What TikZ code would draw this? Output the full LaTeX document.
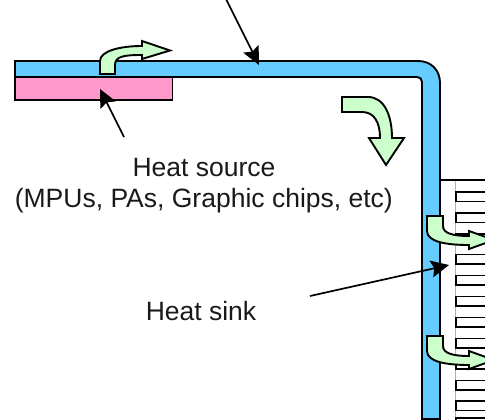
\documentclass[tikz,border=0pt]{standalone}
\usepackage{fontspec}
\setmainfont{Liberation Sans}
\usetikzlibrary{arrows.meta}
\definecolor{pipeblue}{RGB}{102,204,255}
\definecolor{srcpink}{RGB}{255,153,204}
\definecolor{flowgreen}{RGB}{204,255,204}
\tikzset{
  outl/.style={draw=black,line width=1.9pt,line join=miter},
  flow/.style={outl,fill=flowgreen},
  pointer/.style={draw=black,line width=1.7pt,-{Stealth[length=18pt,width=17pt,inset=3pt]}},
  lab/.style={inner sep=0pt,font=\fontsize{26.5}{30}\selectfont,text=black!90},
  fin/.style={draw=black,line width=1.5pt}
}
\newcommand{\sideflow}[1]{%
  \path[flow,shift={(0,#1)}] (427,216) -- (443,216) -- (443,226)
    .. controls (443,233) and (452,236) .. (469,236) -- (469,231) -- (494,240) -- (469,249) -- (469,245)
    .. controls (447,245) and (427,242) .. (427,231) -- cycle;}
\begin{document}
\begin{tikzpicture}[x=1pt,y=-1pt]
\useasboundingbox (0,0) rectangle (485,420);
\clip (0,0) rectangle (485,420);
% heat sink
\draw[draw=black!30,line width=1pt] (455,180) -- (455,420);
\draw[fin] (440,180) -- (485,180);
\foreach \t in {192,213,234,254.5,275.5,296.5,317.5,338.5,359.5,380.5,401}
  \draw[fin] (485,\t) -- (456,\t) -- (456,\t+9.5) -- (485,\t+9.5);
\draw[fin] (456,420) -- (456,418) -- (485,418);
% pipe
\path[outl,fill=pipeblue] (15,61) -- (418,61) .. controls (431,61) and (440,70) .. (440,83)
  -- (440,419) -- (422,419) -- (422,82) .. controls (422,79) and (420,77) .. (417,77) -- (15,77) -- cycle;
% source
\path[outl,fill=srcpink] (15,77) -- (172.5,77) -- (172.5,100) -- (15,100) -- cycle;
% flow arrows
\path[flow] (100,74) -- (100,61) .. controls (100,51) and (120,46) .. (142,46) -- (142,41) -- (170,50.5) -- (142,59) -- (142,55)
  .. controls (125,55) and (115,56) .. (115,65) -- (115,74) -- cycle;
\path[flow] (342,97) -- (368,97) .. controls (384,97) and (392,115) .. (392,138) -- (404,138) -- (386,165) -- (369,138) -- (380,138)
  .. controls (380,122) and (374,112) .. (362,112) -- (342,112) -- cycle;
\sideflow{0}
\sideflow{120}
% labels
\node[lab,anchor=base] (src) at (204,176) {Heat source};
\node[lab,anchor=base east] (srcb) at (393,207.5) {(MPUs, PAs, Graphic chips, etc)};
\node[lab,anchor=base] (sink) at (201,320) {Heat sink};
% pointers
\coordinate (p1s) at (226,-1); \coordinate (p1e) at (259,65);
\coordinate (p2s) at (124,137); \coordinate (p2e) at (100,89);
\coordinate (p3s) at (310,296); \coordinate (p3e) at (449,265);
\draw[pointer] (p1s) -- (p1e);
\draw[pointer] (p2s) -- (p2e);
\draw[pointer] (p3s) -- (p3e);
\end{tikzpicture}
\end{document}
